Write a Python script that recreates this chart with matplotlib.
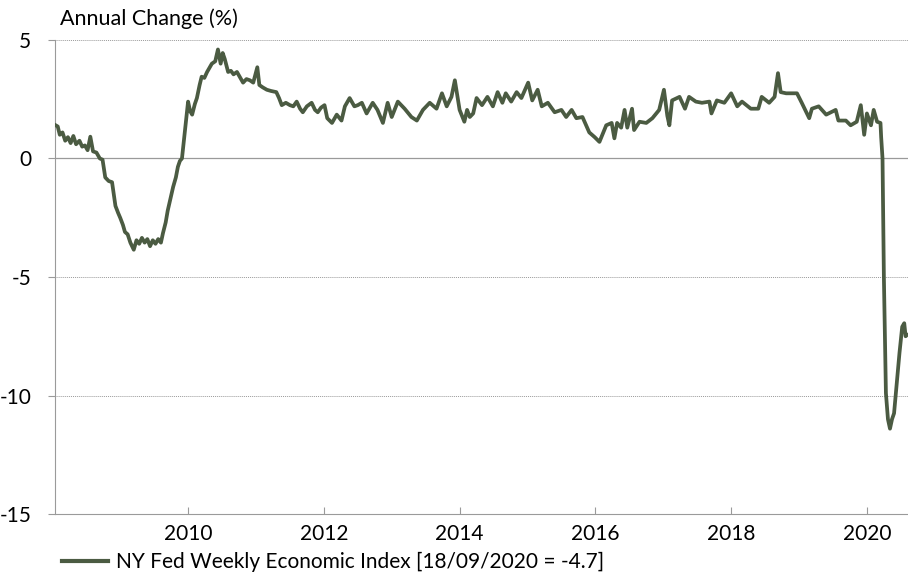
import numpy as np
import matplotlib
matplotlib.use("Agg")
import matplotlib.pyplot as plt

# NY Fed Weekly Economic Index, annual change (%)
dates = [2008.05, 2008.08, 2008.11, 2008.15, 2008.19, 2008.23, 2008.27, 2008.31,
         2008.35, 2008.40, 2008.44, 2008.48, 2008.52, 2008.56, 2008.60, 2008.65,
         2008.70, 2008.74, 2008.78, 2008.83, 2008.88, 2008.91, 2008.93, 2008.97,
         2009.00, 2009.04, 2009.07, 2009.11, 2009.15, 2009.20, 2009.24, 2009.28,
         2009.32, 2009.36, 2009.40, 2009.44, 2009.48, 2009.52, 2009.56, 2009.60,
         2009.63, 2009.67, 2009.70, 2009.74, 2009.78, 2009.82, 2009.85, 2009.88,
         2009.91, 2009.94, 2009.96, 2010.00, 2010.03, 2010.06, 2010.10, 2010.13,
         2010.17, 2010.20, 2010.24, 2010.28, 2010.31, 2010.35, 2010.40, 2010.44,
         2010.48, 2010.51, 2010.54, 2010.59, 2010.63, 2010.67, 2010.72, 2010.77,
         2010.81, 2010.86, 2010.91, 2010.96, 2011.02, 2011.05, 2011.10, 2011.16,
         2011.22, 2011.30, 2011.34, 2011.38, 2011.44, 2011.50, 2011.55, 2011.60,
         2011.65, 2011.69, 2011.75, 2011.82, 2011.87, 2011.91, 2011.96, 2012.01,
         2012.05, 2012.12, 2012.19, 2012.26, 2012.31, 2012.38, 2012.45, 2012.50,
         2012.56, 2012.63, 2012.72, 2012.79, 2012.87, 2012.94, 2013.00, 2013.09,
         2013.19, 2013.29, 2013.37, 2013.46, 2013.56, 2013.66, 2013.74, 2013.81,
         2013.88, 2013.93, 2014.00, 2014.07, 2014.11, 2014.15, 2014.20, 2014.25,
         2014.33, 2014.41, 2014.49, 2014.56, 2014.63, 2014.68, 2014.76, 2014.84,
         2014.91, 2015.01, 2015.07, 2015.15, 2015.21, 2015.30, 2015.40, 2015.50,
         2015.57, 2015.65, 2015.72, 2015.81, 2015.91, 2015.99, 2016.06, 2016.16,
         2016.24, 2016.28, 2016.32, 2016.38, 2016.43, 2016.47, 2016.54, 2016.57,
         2016.65, 2016.75, 2016.84, 2016.94, 2017.01, 2017.06, 2017.09, 2017.13,
         2017.24, 2017.32, 2017.38, 2017.48, 2017.57, 2017.68, 2017.71, 2017.79,
         2017.90, 2018.00, 2018.09, 2018.16, 2018.29, 2018.40, 2018.45, 2018.56,
         2018.64, 2018.69, 2018.73, 2018.81, 2018.90, 2018.97, 2019.04, 2019.15,
         2019.19, 2019.29, 2019.40, 2019.54, 2019.58, 2019.69, 2019.76, 2019.85,
         2019.91, 2019.96, 2020.00, 2020.06, 2020.10, 2020.15, 2020.20, 2020.21,
         2020.23, 2020.25, 2020.28, 2020.31, 2020.34, 2020.37, 2020.40, 2020.44,
         2020.48, 2020.52, 2020.55, 2020.57, 2020.59]
values = [1.40, 1.35, 1.00, 1.10, 0.75, 0.90, 0.65, 0.95, 0.60, 0.75, 0.50, 0.55,
          0.35, 0.92, 0.30, 0.25, 0.00, -0.05, -0.80, -0.95, -1.00, -1.60, -2.00,
          -2.30, -2.50, -2.80, -3.10, -3.20, -3.55, -3.85, -3.45, -3.60, -3.35,
          -3.55, -3.40, -3.70, -3.45, -3.60, -3.40, -3.55, -3.15, -2.70, -2.20,
          -1.70, -1.20, -0.80, -0.35, -0.10, 0.00, 0.80, 1.30, 2.40, 2.00, 1.85,
          2.30, 2.55, 3.10, 3.45, 3.40, 3.65, 3.80, 4.00, 4.10, 4.60, 4.00, 4.45,
          4.20, 3.65, 3.70, 3.55, 3.65, 3.40, 3.20, 3.35, 3.30, 3.20, 3.85, 3.10,
          3.00, 2.90, 2.85, 2.80, 2.55, 2.25, 2.35, 2.25, 2.20, 2.40, 2.10, 1.95,
          2.20, 2.35, 2.05, 1.95, 2.15, 2.25, 1.70, 1.50, 1.85, 1.60, 2.20, 2.55,
          2.20, 2.25, 2.35, 1.90, 2.35, 2.05, 1.50, 2.35, 1.75, 2.40, 2.10, 1.75,
          1.60, 2.05, 2.35, 2.10, 2.75, 2.20, 2.60, 3.30, 2.05, 1.55, 2.05, 1.75,
          1.90, 2.55, 2.25, 2.60, 2.20, 2.80, 2.35, 2.75, 2.40, 2.80, 2.55, 3.20,
          2.45, 2.90, 2.20, 2.35, 1.95, 2.05, 1.75, 2.05, 1.70, 1.75, 1.10, 0.90,
          0.70, 1.40, 1.50, 0.85, 1.50, 1.30, 2.05, 1.30, 2.10, 1.20, 1.55, 1.50,
          1.70, 2.05, 2.90, 1.80, 1.40, 2.45, 2.60, 2.10, 2.60, 2.40, 2.35, 2.40,
          1.90, 2.45, 2.35, 2.75, 2.20, 2.40, 2.10, 2.10, 2.60, 2.35, 2.60, 3.60,
          2.80, 2.75, 2.75, 2.75, 2.35, 1.70, 2.10, 2.20, 1.85, 2.05, 1.60, 1.60,
          1.40, 1.55, 2.25, 1.00, 1.90, 1.40, 2.05, 1.55, 1.50, 0.90, 0.00, -5.00,
          -9.90, -11.00, -11.40, -11.00, -10.75, -9.50, -8.20, -7.10, -6.95,
          -7.50, -7.45]

ytick_vals = [5, 0, -5, -10, -15]
xtick_vals = [2010, 2012, 2014, 2016, 2018, 2020]
series_name = "NY Fed Weekly Economic Index [18/09/2020 = -4.7]"

plt.rcParams["font.family"] = ["Lato", "DejaVu Sans"]
line_col = "#4b5b42"
grey = "#9a9a9a"

fig = plt.figure(figsize=(9.08, 5.76), dpi=100)
ax = fig.add_axes([0.0606, 0.1076, 0.939, 0.823])

for v in ytick_vals[:-1]:
    if v == 0:
        ax.axhline(v, color=grey, lw=0.9, zorder=1)
    else:
        ax.axhline(v, color=grey, lw=0.7, ls=(0, (1, 1)), zorder=1)

ax.plot(dates, values, color=line_col, lw=2.7, zorder=3, label=series_name,
        solid_joinstyle="round")

ax.set_xlim(2008.04, 2020.6)
ax.set_ylim(-15, 5)
ax.set_yticks(ytick_vals)
ax.set_yticklabels([str(v) for v in ytick_vals], fontsize=15)
ax.set_xticks(xtick_vals)
ax.set_xticklabels([str(v) for v in xtick_vals], fontsize=15)
ax.tick_params(axis="y", direction="out", length=5, color=grey, pad=12)
ax.tick_params(axis="x", direction="in", length=5, color=grey, pad=7)

for s in ["top", "right"]:
    ax.spines[s].set_visible(False)
ax.spines["left"].set_color(grey)
ax.spines["bottom"].set_color(grey)

fig.text(0.066, 0.968, "Annual Change (%)", fontsize=15.5, va="center", ha="left")

leg = fig.legend(loc="center left", bbox_to_anchor=(0.068, 0.024), frameon=False,
                 fontsize=15, handlelength=2.2, handletextpad=0.4,
                 borderpad=0, borderaxespad=0)
for h in leg.get_lines():
    h.set_linewidth(3)

fig.savefig("out.png", dpi=100)
